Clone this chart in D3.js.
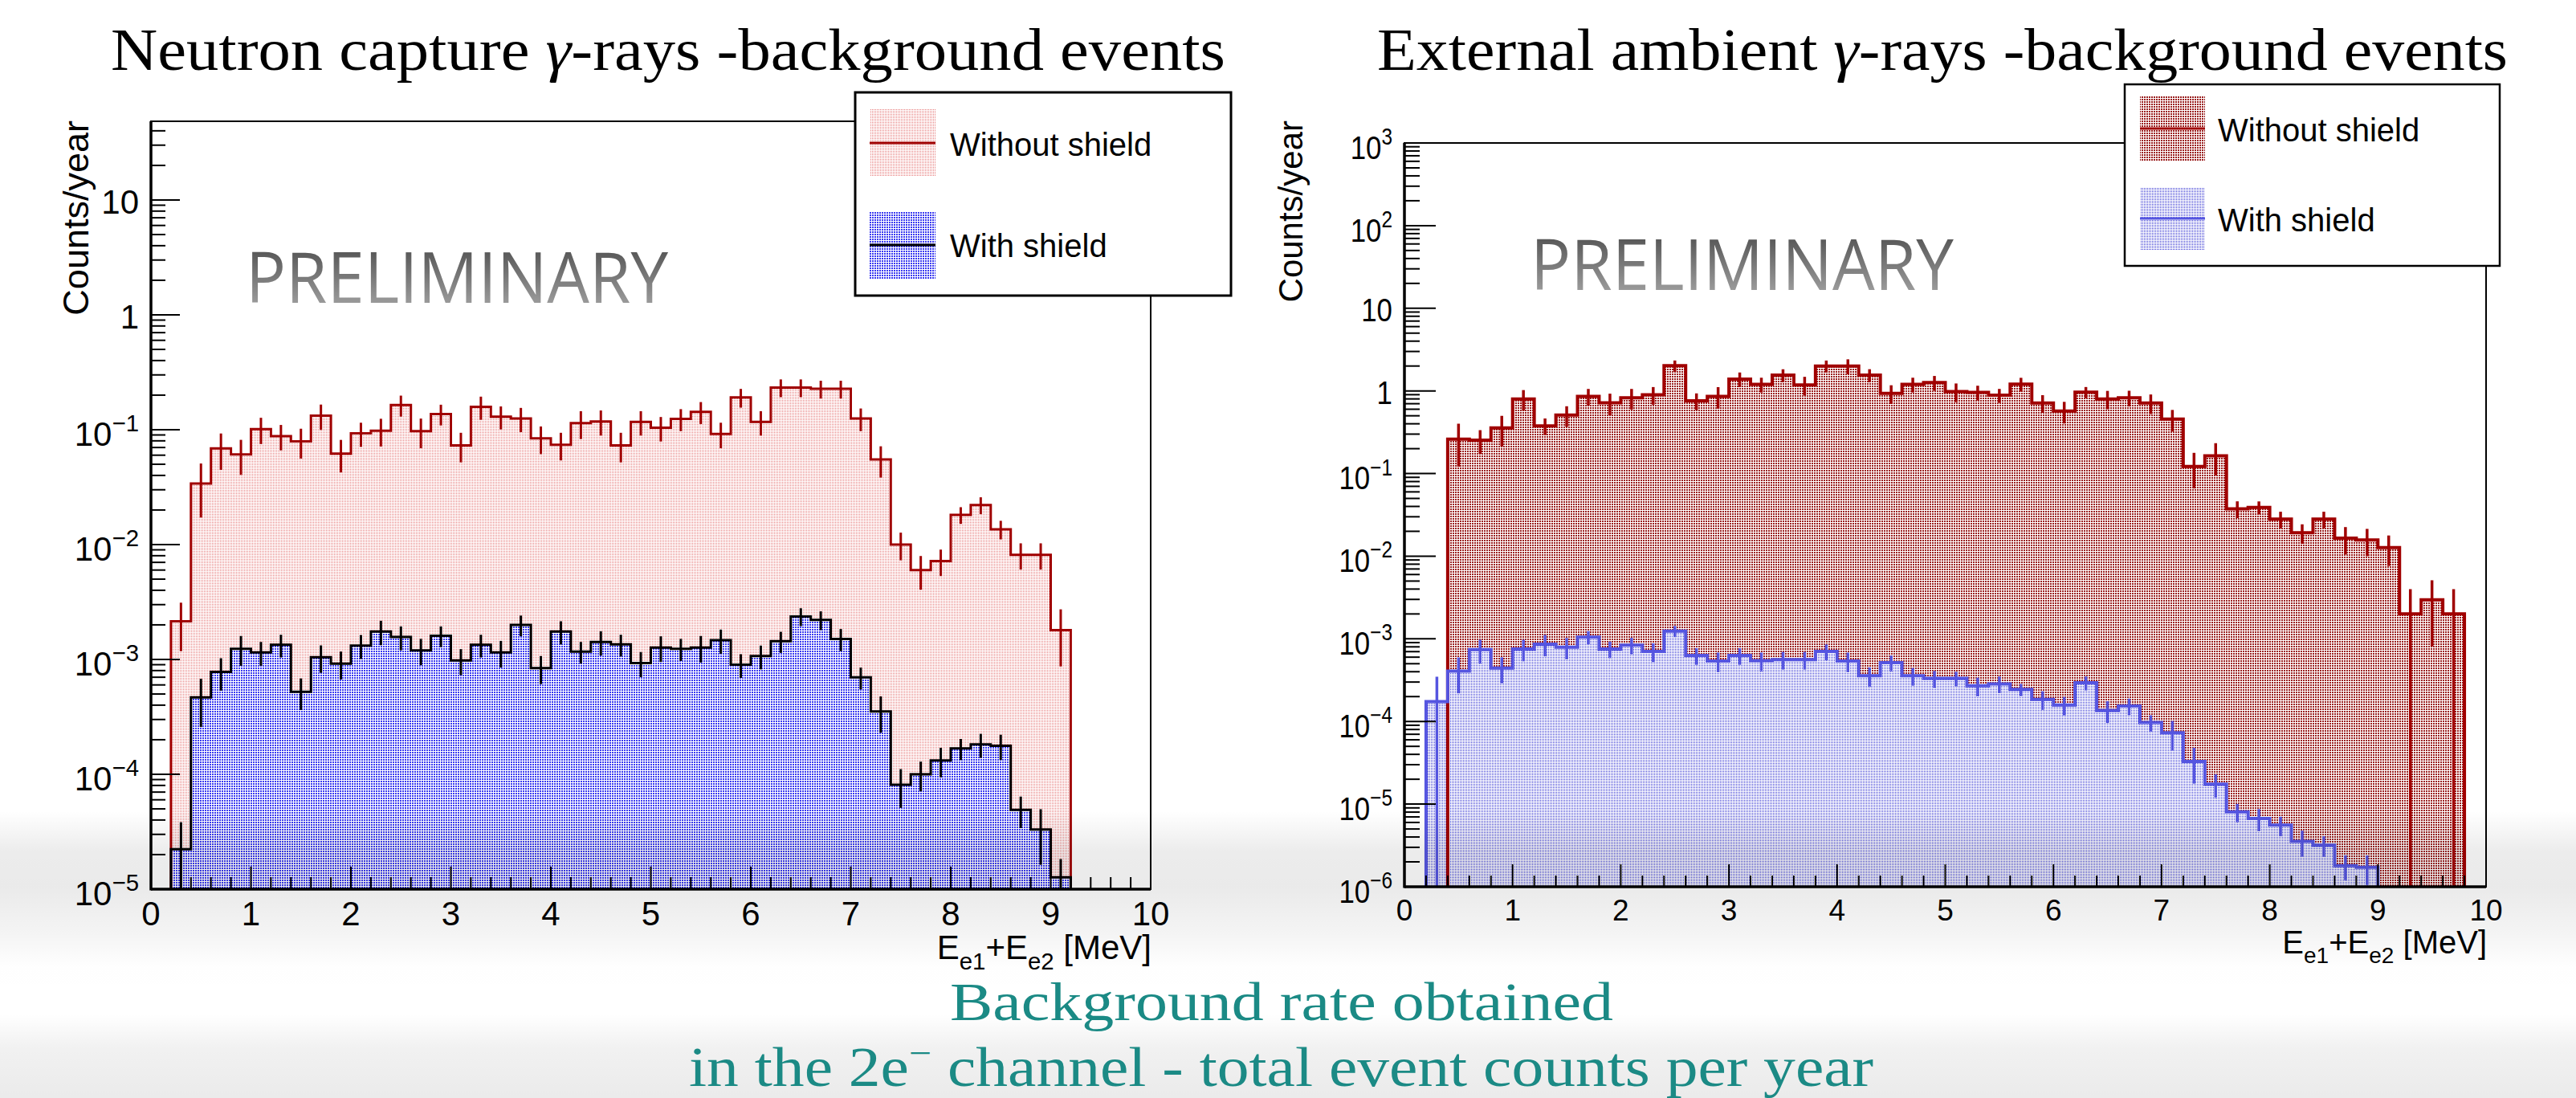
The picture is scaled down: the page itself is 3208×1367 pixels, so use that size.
<!DOCTYPE html>
<html>
<head>
<meta charset="utf-8">
<script src="https://cdn.jsdelivr.net/npm/d3@7"></script>
<style>
  body { margin: 0; background: #fff; }
  svg { display: block; }
</style>
</head>
<body>
<script>
// lower bin edges [MeV], bins are 0.2 MeV wide
var binLow = [0.0, 0.2, 0.4, 0.6, 0.8, 1.0, 1.2, 1.4, 1.6, 1.8,
              2.0, 2.2, 2.4, 2.6, 2.8, 3.0, 3.2, 3.4, 3.6, 3.8,
              4.0, 4.2, 4.4, 4.6, 4.8, 5.0, 5.2, 5.4, 5.6, 5.8,
              6.0, 6.2, 6.4, 6.6, 6.8, 7.0, 7.2, 7.4, 7.6, 7.8,
              8.0, 8.2, 8.4, 8.6, 8.8, 9.0, 9.2, 9.4, 9.6, 9.8]
var binWidth = 0.2

// neutron capture gammas, without shield (counts/year)
var neutronNoShield = [0, 2.15e-3, 0.034, 0.0687, 0.061, 0.101, 0.088, 0.079, 0.1325, 0.062,
  0.093, 0.098, 0.164, 0.097, 0.137, 0.073, 0.158, 0.130, 0.125, 0.084,
  0.074, 0.114, 0.118, 0.073, 0.117, 0.104, 0.124, 0.143, 0.092, 0.191,
  0.117, 0.233, 0.233, 0.227, 0.227, 0.125, 0.055, 0.0100, 0.0060, 0.00718,
  0.01815, 0.0221, 0.0136, 0.00815, 0.00815, 0.0018, 0, 0, 0, 0]
var neutronNoShieldErr = [0, 0.00097, 0.0168, 0.024, 0.0206, 0.026, 0.022, 0.023, 0.033, 0.0195,
  0.022, 0.0265, 0.034, 0.028, 0.028, 0.021, 0.036, 0.0295, 0.0298, 0.0227,
  0.020, 0.031, 0.029, 0.021, 0.028, 0.025, 0.027, 0.031, 0.023, 0.0355,
  0.028, 0.041, 0.041, 0.040, 0.040, 0.028, 0.0167, 0.0027, 0.00195, 0.00186,
  0.0030, 0.0037, 0.0025, 0.0021, 0.0021, 0.00093, 0, 0, 0, 0]

// neutron capture gammas, with shield
var neutronShield = [0, 2.23e-5, 4.68e-4, 7.8e-4, 1.24e-3, 1.15e-3, 1.34e-3, 5.23e-4, 1.045e-3, 9.2e-4,
  1.32e-3, 1.75e-3, 1.57e-3, 1.2e-3, 1.61e-3, 9.8e-4, 1.34e-3, 1.15e-3, 2.0e-3, 8.4e-4,
  1.75e-3, 1.17e-3, 1.42e-3, 1.35e-3, 9.3e-4, 1.27e-3, 1.24e-3, 1.27e-3, 1.47e-3, 9.0e-4,
  1.07e-3, 1.44e-3, 2.37e-3, 2.21e-3, 1.51e-3, 6.98e-4, 3.53e-4, 8.1e-5, 1.0e-4, 1.32e-4,
  1.68e-4, 1.82e-4, 1.77e-4, 4.9e-5, 3.3e-5, 1.27e-5, 0, 0, 0, 0]
var neutronShieldErr = [0, 1.6e-5, 2.1e-4, 2.45e-4, 3.6e-4, 2.7e-4, 3.0e-4, 1.6e-4, 2.8e-4, 2.5e-4,
  3.1e-4, 4.2e-4, 3.7e-4, 3.1e-4, 3.3e-4, 2.5e-4, 3.0e-4, 3.0e-4, 4.1e-4, 2.3e-4,
  4.0e-4, 2.5e-4, 3.4e-4, 2.9e-4, 2.3e-4, 3.2e-4, 2.7e-4, 3.3e-4, 3.5e-4, 2.1e-4,
  2.5e-4, 3.0e-4, 4.2e-4, 4.1e-4, 3.3e-4, 1.5e-4, 1.23e-4, 3.0e-5, 2.9e-5, 3.8e-5,
  3.5e-5, 4.3e-5, 4.4e-5, 1.5e-5, 1.67e-5, 5.6e-6, 0, 0, 0, 0]

// external ambient gammas, without shield
var ambientNoShield = [0, 0, 0.261, 0.254, 0.356, 0.80, 0.378, 0.51, 0.86, 0.716,
  0.826, 0.897, 2.02, 0.76, 0.86, 1.39, 1.2, 1.55, 1.18, 2.0,
  2.0, 1.55, 0.933, 1.2, 1.26, 0.98, 0.96, 0.887, 1.21, 0.715,
  0.57, 0.964, 0.80, 0.826, 0.715, 0.455, 0.122, 0.164, 0.0375, 0.039,
  0.0281, 0.0192, 0.0281, 0.0165, 0.0157, 0.0127, 2.0e-3, 2.96e-3, 2.0e-3, 0]
var ambientNoShieldErr = [0, 0, 0.14, 0.081, 0.143, 0.223, 0.086, 0.142, 0.196, 0.21,
  0.23, 0.216, 0.313, 0.173, 0.25, 0.28, 0.244, 0.277, 0.30, 0.33,
  0.41, 0.28, 0.237, 0.244, 0.256, 0.25, 0.195, 0.17, 0.23, 0.172,
  0.167, 0.15, 0.20, 0.178, 0.19, 0.133, 0.056, 0.069, 0.0086, 0.0070,
  0.0064, 0.0051, 0.0064, 0.0060, 0.0057, 0.0051, 2.0e-3, 2.15e-3, 2.0e-3, 0]

// external ambient gammas, with shield
var ambientShield = [0, 1.74e-4, 4.07e-4, 7.4e-4, 4.43e-4, 7.55e-4, 8.63e-4, 7.94e-4, 1.05e-3, 7.55e-4,
  8.37e-4, 7.03e-4, 1.24e-3, 6.28e-4, 5.38e-4, 6.28e-4, 5.43e-4, 5.6e-4, 5.6e-4, 7.03e-4,
  5.38e-4, 3.57e-4, 5.16e-4, 3.57e-4, 3.32e-4, 3.32e-4, 2.7e-4, 2.85e-4, 2.44e-4, 1.85e-4,
  1.58e-4, 2.94e-4, 1.36e-4, 1.54e-4, 9.7e-5, 7.3e-5, 3.29e-5, 1.74e-5, 8.05e-6, 6.7e-6,
  5.56e-6, 3.54e-6, 3.19e-6, 1.8e-6, 1.72e-6, 0, 0, 0, 0, 0]
var ambientShieldErr = [0, 1.74e-4, 1.88e-4, 2.36e-4, 1.54e-4, 2.2e-4, 2.5e-4, 2.3e-4, 1.9e-4, 1.7e-4,
  1.9e-4, 1.8e-4, 1.9e-4, 1.43e-4, 1.43e-4, 1.43e-4, 1.38e-4, 1.35e-4, 1.35e-4, 1.52e-4,
  1.43e-4, 9.5e-5, 1.11e-4, 8.6e-5, 7.6e-5, 6.7e-5, 6.9e-5, 6.5e-5, 4.1e-5, 4.7e-5,
  4.0e-5, 5.6e-5, 4.0e-5, 3.5e-5, 2.2e-5, 2.85e-5, 1.52e-5, 5.5e-6, 2.0e-6, 2.0e-6,
  1.48e-6, 1.23e-6, 8.9e-7, 6.0e-7, 6.7e-7, 0, 0, 0, 0, 0]

var xTickLabels = ["0", "1", "2", "3", "4", "5", "6", "7", "8", "9", "10"]
var neutronYExp = [-5, -4, -3, -2, -1, 0, 1]
var ambientYExp = [-6, -5, -4, -3, -2, -1, 0, 1, 2, 3]
var legendLabels = ["Without shield", "With shield"]

var W = 3208, H = 1367

var svg = d3.select("body").append("svg")
  .attr("width", W)
  .attr("height", H)

var defs = svg.append("defs")

// slide shading: translucent grey bands near the bottom, laid over everything
var bg = defs.append("linearGradient")
  .attr("id", "slideShade")
  .attr("gradientUnits", "userSpaceOnUse")
  .attr("x1", 0).attr("y1", 0).attr("x2", 0).attr("y2", H)
var shadeStops = [[0, 0], [1010, 0], [1060, 0.075], [1105, 0.082],
  [1160, 0.045], [1205, 0.003], [1262, 0], [1305, 0.055], [1367, 0.08]]
shadeStops.forEach(function (s) {
  bg.append("stop").attr("offset", s[0] / H)
    .attr("stop-color", "#000").attr("stop-opacity", s[1])
})

var prelim = defs.append("linearGradient")
  .attr("id", "prelimGrad")
  .attr("x1", 0).attr("y1", 0).attr("x2", 0).attr("y2", 1)
prelim.append("stop").attr("offset", 0).attr("stop-color", "#3a3a3a")
prelim.append("stop").attr("offset", 1).attr("stop-color", "#b4b4b4")

// dotted fill styles (ROOT-like), opaque, pixel aligned to avoid moire
function dotPattern(id, color, tile, size) {
  var p = defs.append("pattern")
    .attr("id", id)
    .attr("patternUnits", "userSpaceOnUse")
    .attr("x", 0).attr("y", 0)
    .attr("width", tile)
    .attr("height", tile)
  p.append("rect")
    .attr("width", tile).attr("height", tile)
    .attr("fill", "#fff")
  p.append("rect")
    .attr("x", 0).attr("y", 0)
    .attr("width", size).attr("height", size)
    .attr("fill", color)
    .attr("shape-rendering", "crispEdges")
}
dotPattern("dotsPink", "#e67a7a", 2, 1)
dotPattern("dotsBlue", "#3a3af0", 3, 2)
dotPattern("dotsDarkRed", "#9a1e1e", 3, 2)
dotPattern("dotsLavender", "#3434d2", 2, 1)

svg.append("rect")
  .attr("width", W)
  .attr("height", H)
  .attr("fill", "#fff")

var panels = [
  {
    id: "left",
    title: ["Neutron capture ", "γ", "-rays -background events"],
    titleX: 138, titleLen: 1388,
    frame: { x0: 188, x1: 1433, y0: 151, y1: 1107 },
    yMin: 1e-5, yMax: Math.pow(10, 1.685), yExp: neutronYExp,
    yLabelSize: 42, yLabelScale: 1, yMajor: 36, yMinor: 18,
    xLabelSize: 42, xLabelBase: 1152, xMajor: 28, xMinor: 15,
    xTitleSize: 42, xTitleBase: 1194,
    yTitleSize: 45, yTitleX: 110,
    lineW: 3, errW: 3,
    prelim: { x: 306, y: 377, len: 526 },
    series: [
      { values: neutronNoShield, errors: neutronNoShieldErr, line: "#a00000", fill: "url(#dotsPink)" },
      { values: neutronShield, errors: neutronShieldErr, line: "#000000", fill: "url(#dotsBlue)" }
    ],
    legend: { x0: 1065, y0: 115, x1: 1533, y1: 368, sx0: 1083, sx1: 1165,
      rows: [{ top: 135, bot: 220, mid: 178, base: 194 }, { top: 263, bot: 348, mid: 305, base: 320 }],
      textX: 1183, size: 40, stroke: 3 }
  },
  {
    id: "right",
    title: ["External ambient ", "γ", "-rays -background events"],
    titleX: 1715, titleLen: 1408,
    frame: { x0: 1749, x1: 3096, y0: 178, y1: 1104 },
    yMin: 1e-6, yMax: 1e3, yExp: ambientYExp,
    yLabelSize: 41, yLabelScale: 0.85, yMajor: 39, yMinor: 19,
    xLabelSize: 37, xLabelBase: 1146, xMajor: 28, xMinor: 14,
    xTitleSize: 40, xTitleBase: 1187,
    yTitleSize: 42, yTitleX: 1622,
    lineW: 4, errW: 3.5,
    prelim: { x: 1906, y: 361, len: 527 },
    series: [
      { values: ambientNoShield, errors: ambientNoShieldErr, line: "#a00000", fill: "url(#dotsDarkRed)" },
      { values: ambientShield, errors: ambientShieldErr, line: "#5555e0", fill: "url(#dotsLavender)" }
    ],
    legend: { x0: 2646, y0: 105, x1: 3113, y1: 331, sx0: 2665, sx1: 2746,
      rows: [{ top: 120, bot: 200, mid: 160, base: 176 }, { top: 233, bot: 312, mid: 272, base: 288 }],
      textX: 2762, size: 40, stroke: 2.5 }
  }
]

panels.forEach(function (p) {
  var f = p.frame
  var x = d3.scaleLinear().domain([0, 10]).range([f.x0, f.x1])
  var y = d3.scaleLog().domain([p.yMin, p.yMax]).range([f.y1, f.y0])
  var g = svg.append("g")

  // title
  var t = g.append("text")
    .attr("x", p.titleX)
    .attr("y", 87)
    .attr("textLength", p.titleLen)
    .attr("lengthAdjust", "spacingAndGlyphs")
    .style("font-family", "'Liberation Serif', 'DejaVu Serif', serif")
    .style("font-size", "74px")
    .attr("fill", "#000")
  t.append("tspan").text(p.title[0])
  t.append("tspan").style("font-style", "italic").text(p.title[1])
  t.append("tspan").text(p.title[2])

  g.append("clipPath").attr("id", "clip-" + p.id)
    .append("rect")
    .attr("x", f.x0).attr("y", f.y0)
    .attr("width", f.x1 - f.x0).attr("height", f.y1 - f.y0)

  var plot = g.append("g").attr("clip-path", "url(#clip-" + p.id + ")")

  function yv(v) { return v > p.yMin ? y(v) : f.y1 + 2 }

  function stepPoints(values) {
    var pts = [[x(0), f.y1 + 2]]
    values.forEach(function (v, i) {
      pts.push([x(binLow[i]), yv(v)], [x(binLow[i] + binWidth), yv(v)])
    })
    pts.push([x(10), f.y1 + 2])
    return pts
  }

  var line = d3.line()
  var area = d3.area().y0(f.y1 + 2)

  // fills first, then outlines and error bars
  p.series.forEach(function (s) {
    plot.append("path")
      .attr("d", area(stepPoints(s.values)))
      .attr("fill", s.fill)
  })

  p.series.forEach(function (s) {
    plot.append("path")
      .attr("d", line(stepPoints(s.values)))
      .attr("fill", "none")
      .attr("stroke", s.line)
      .attr("stroke-width", p.lineW)
      .attr("stroke-linejoin", "miter")

    s.values.forEach(function (v, i) {
      if (v <= 0) return
      var e = s.errors[i]
      var cx = x(binLow[i] + binWidth / 2)
      plot.append("line")
        .attr("x1", cx).attr("x2", cx)
        .attr("y1", yv(Math.min(v + e, p.yMax * 10)))
        .attr("y2", yv(v - e))
        .attr("stroke", s.line)
        .attr("stroke-width", p.errW)
    })
  })

  // frame
  g.append("rect")
    .attr("x", f.x0).attr("y", f.y0)
    .attr("width", f.x1 - f.x0).attr("height", f.y1 - f.y0)
    .attr("fill", "none")
    .attr("stroke", "#000")
    .attr("stroke-width", 2)
  g.append("line")
    .attr("x1", f.x0).attr("x2", f.x0).attr("y1", f.y0).attr("y2", f.y1 + 1.5)
    .attr("stroke", "#000").attr("stroke-width", 3.5)
  g.append("line")
    .attr("x1", f.x0).attr("x2", f.x1).attr("y1", f.y1).attr("y2", f.y1)
    .attr("stroke", "#000").attr("stroke-width", 3.5)

  // x ticks every 0.2 MeV, labels on integers
  d3.range(0, 51).forEach(function (k) {
    var xv = x(k * binWidth)
    var major = k % 5 == 0
    g.append("line")
      .attr("x1", xv).attr("x2", xv)
      .attr("y1", f.y1).attr("y2", f.y1 - (major ? p.xMajor : p.xMinor))
      .attr("stroke", "#000").attr("stroke-width", 2)
  })
  xTickLabels.forEach(function (lab, i) {
    g.append("text")
      .attr("x", x(+lab))
      .attr("y", p.xLabelBase)
      .attr("text-anchor", "middle")
      .style("font-family", "'Liberation Sans', Arial, sans-serif")
      .style("font-size", p.xLabelSize + "px")
      .text(lab)
  })

  // y ticks: decades and 2..9 minors
  var lo = Math.floor(Math.log10(p.yMin)), hi = Math.ceil(Math.log10(p.yMax))
  for (var d = lo; d <= hi; d++) {
    for (var m = 1; m <= 9; m++) {
      var v = m * Math.pow(10, d)
      if (v < p.yMin * 0.999 || v > p.yMax * 1.001) continue
      g.append("line")
        .attr("x1", f.x0).attr("x2", f.x0 + (m == 1 ? p.yMajor : p.yMinor))
        .attr("y1", y(v)).attr("y2", y(v))
        .attr("stroke", "#000").attr("stroke-width", 2)
    }
  }
  p.yExp.forEach(function (e) {
    var plain = (e == 0 || e == 1)
    var fs = p.yLabelSize
    var ty = y(Math.pow(10, e)) + (plain ? 0.40 : 0.48) * fs
    var txt = g.append("text")
      .attr("transform", "translate(" + (f.x0 - 15) + "," + ty + ") scale(" + p.yLabelScale + ",1)")
      .attr("text-anchor", "end")
      .style("font-family", "'Liberation Sans', Arial, sans-serif")
      .style("font-size", fs + "px")
    if (plain) {
      txt.text(e == 0 ? "1" : "10")
    } else {
      txt.append("tspan").text("10")
      txt.append("tspan")
        .attr("dy", -0.43 * fs)
        .style("font-size", (0.7 * fs) + "px")
        .text(String(e).replace("-", "\u2212"))
    }
  })

  // axis titles
  var xt = g.append("text")
    .attr("x", f.x1 + 1)
    .attr("y", p.xTitleBase)
    .attr("text-anchor", "end")
    .style("font-family", "'Liberation Sans', Arial, sans-serif")
    .style("font-size", p.xTitleSize + "px")
  var sub = 0.3 * p.xTitleSize
  xt.append("tspan").text("E")
  xt.append("tspan").attr("dy", sub).style("font-size", (0.7 * p.xTitleSize) + "px").text("e1")
  xt.append("tspan").attr("dy", -sub).text("+E")
  xt.append("tspan").attr("dy", sub).style("font-size", (0.7 * p.xTitleSize) + "px").text("e2")
  xt.append("tspan").attr("dy", -sub).text(" [MeV]")

  g.append("text")
    .attr("transform", "translate(" + p.yTitleX + ",150) rotate(-90)")
    .attr("text-anchor", "end")
    .style("font-family", "'Liberation Sans', Arial, sans-serif")
    .style("font-size", p.yTitleSize + "px")
    .text("Counts/year")

  // watermark
  g.append("text")
    .attr("x", p.prelim.x)
    .attr("y", p.prelim.y)
    .attr("textLength", p.prelim.len)
    .attr("lengthAdjust", "spacingAndGlyphs")
    .style("font-family", "'Open Sans', 'Noto Sans', sans-serif")
    .style("font-size", "88px")
    .attr("fill", "url(#prelimGrad)")
    .text("PRELIMINARY")

  // legend
  var L = p.legend
  g.append("rect")
    .attr("x", L.x0).attr("y", L.y0)
    .attr("width", L.x1 - L.x0).attr("height", L.y1 - L.y0)
    .attr("fill", "#fff")
    .attr("stroke", "#000")
    .attr("stroke-width", L.stroke)
  p.series.forEach(function (s, i) {
    var r = L.rows[i]
    g.append("rect")
      .attr("x", L.sx0).attr("y", r.top)
      .attr("width", L.sx1 - L.sx0).attr("height", r.bot - r.top)
      .attr("fill", s.fill)
    g.append("line")
      .attr("x1", L.sx0).attr("x2", L.sx1)
      .attr("y1", r.mid).attr("y2", r.mid)
      .attr("stroke", s.line)
      .attr("stroke-width", 3)
    g.append("text")
      .attr("x", L.textX)
      .attr("y", r.base)
      .style("font-family", "'Liberation Sans', Arial, sans-serif")
      .style("font-size", L.size + "px")
      .text(legendLabels[i])
  })
})

// translucent slide shading over the lower part
svg.append("rect")
  .attr("width", W)
  .attr("height", H)
  .attr("fill", "url(#slideShade)")
  .style("pointer-events", "none")

// caption
svg.append("text")
  .attr("x", 1183)
  .attr("y", 1270)
  .attr("textLength", 826)
  .attr("lengthAdjust", "spacingAndGlyphs")
  .style("font-family", "'Liberation Serif', 'DejaVu Serif', serif")
  .style("font-size", "68px")
  .attr("fill", "#1b8a85")
  .text("Background rate obtained")

var cap2 = svg.append("text")
  .attr("x", 858)
  .attr("y", 1352)
  .attr("textLength", 1475)
  .attr("lengthAdjust", "spacingAndGlyphs")
  .style("font-family", "'Liberation Serif', 'DejaVu Serif', serif")
  .style("font-size", "70px")
  .attr("fill", "#1b8a85")
cap2.append("tspan").text("in the 2e")
cap2.append("tspan").attr("dy", -26).style("font-size", "44px").text("\u2212")
cap2.append("tspan").attr("dy", 26).text(" channel - total event counts per year")
</script>
</body>
</html>
